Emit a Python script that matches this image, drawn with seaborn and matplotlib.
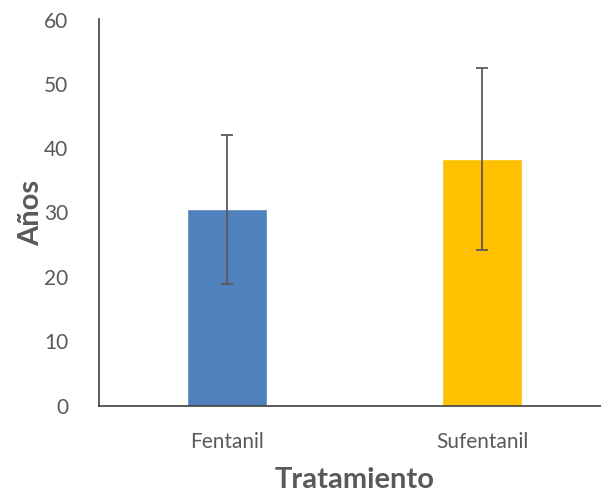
import matplotlib
matplotlib.use("Agg")
import matplotlib.pyplot as plt
import seaborn as sns
import pandas as pd

categories = ["Fentanil", "Sufentanil"]
means = [30.5, 38.3]
sds = [11.6, 14.2]
colors = ["#4F81BD", "#FFC000"]
y_ticks = [0, 10, 20, 30, 40, 50, 60]

sns.set_theme(style="white")
plt.rcParams['font.family'] = ['Lato', 'DejaVu Sans']

df = pd.DataFrame({"Tratamiento": categories, "Años": means})

fig = plt.figure(figsize=(6.01, 4.98), dpi=100)
ax = fig.add_axes([99/601, (498-405.5)/498, 511/601, (405.5-19.5)/498])

sns.barplot(data=df, x="Tratamiento", y="Años", hue="Tratamiento",
            palette=colors, width=0.314, legend=False, ax=ax, saturation=1)
ax.errorbar(x=list(range(len(categories))), y=means, yerr=sds, fmt='none',
            ecolor="#595959", elinewidth=1.3, capsize=4.5, capthick=1.3)

ax.set_xlim(-0.5, 1.5)
ax.set_ylim(0, 60)
ax.set_yticks(y_ticks)
ax.set_yticklabels([str(t) for t in y_ticks])

sns.despine(ax=ax)
for s in ["left", "bottom"]:
    ax.spines[s].set_color("#404040")
    ax.spines[s].set_linewidth(1.2)

ax.tick_params(axis='both', length=0, labelsize=15, colors="#595959")
ax.tick_params(axis='y', pad=22)
ax.tick_params(axis='x', pad=19)

ax.set_xlabel("Tratamiento", fontsize=21, fontweight='bold', color="#595959", labelpad=11)
ax.set_ylabel("Años", fontsize=21, fontweight='bold', color="#595959", labelpad=0)

fig.savefig("out.png", dpi=100)
